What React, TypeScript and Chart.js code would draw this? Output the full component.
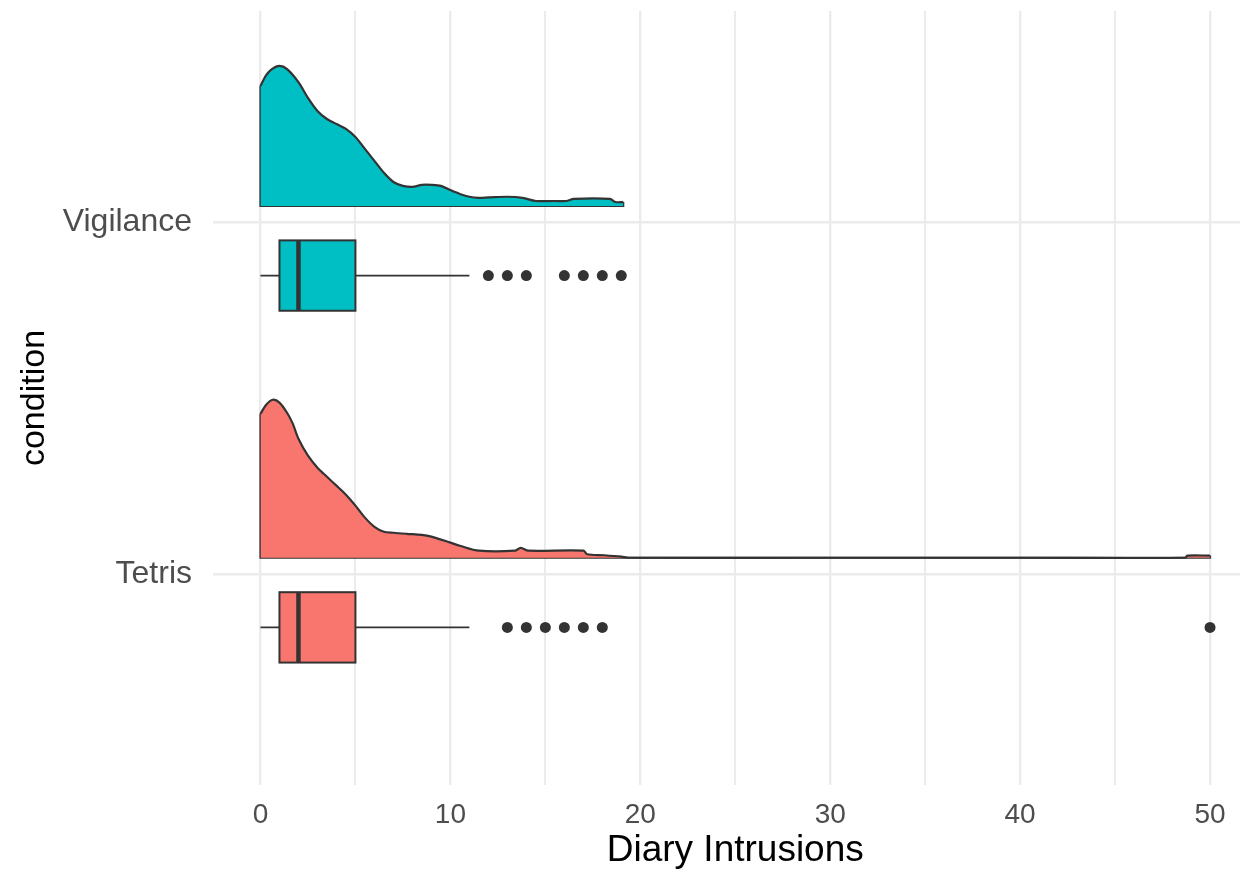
import React, { useEffect, useRef } from "react";
import { Chart, registerables } from "chart.js";

Chart.register(...registerables);

// ---- data ----
const categories = ["Tetris", "Vigilance"]; // y positions 1, 2
const categoryPos = [1, 2];
const fillColors = ["#F8766D", "#00BFC4"];

// box-plot summaries (Tetris, Vigilance)
const boxMin = [0, 0];
const boxQ1 = [1, 1];
const boxMedian = [2, 2];
const boxQ3 = [5, 5];
const boxMax = [11, 11];
const outliersTetris = [13, 14, 15, 16, 17, 18, 50];
const outliersVigilance = [12, 13, 14, 16, 17, 18, 19];

// half-violin densities (scaled heights)
const densVigX = [0, 0.3, 0.6, 1.0, 1.4, 2.0, 2.5, 3.0, 3.5, 4.0, 4.5, 5.0, 5.5, 6.0, 6.5, 7.0, 7.5, 8.0, 8.5, 9.0, 9.5, 10.0, 10.5, 11.0, 11.5, 12.0, 13.0, 13.8, 14.5, 15.5, 16.1, 16.5, 18.4, 18.7, 19.1];
const densVigY = [0.341, 0.372, 0.389, 0.398, 0.389, 0.352, 0.307, 0.27, 0.247, 0.233, 0.219, 0.196, 0.162, 0.128, 0.094, 0.068, 0.057, 0.054, 0.06, 0.06, 0.057, 0.045, 0.034, 0.026, 0.023, 0.024, 0.026, 0.023, 0.014, 0.014, 0.014, 0.02, 0.02, 0.011, 0.011];
const densTetX = [0, 0.3, 0.65, 1.0, 1.4, 1.7, 2.0, 2.5, 3.0, 3.5, 4.0, 4.5, 5.0, 5.5, 6.0, 6.5, 7.0, 7.7, 8.5, 9.0, 10.0, 10.5, 11.5, 13.4, 13.7, 14.1, 17.0, 17.2, 18.1, 19.0, 19.4, 30, 40, 48.7, 48.8, 50];
const densTetY = [0.409, 0.435, 0.449, 0.441, 0.412, 0.381, 0.338, 0.29, 0.256, 0.23, 0.205, 0.179, 0.148, 0.114, 0.088, 0.074, 0.071, 0.068, 0.065, 0.06, 0.043, 0.034, 0.02, 0.02, 0.028, 0.02, 0.02, 0.01, 0.007, 0.003, 0.0, 0.0, 0.0, 0.0, 0.006, 0.006];

const densityOffset = 0.046; // nudge above the category line
const boxOffset = -0.152; // nudge below the category line
const boxHalf = 0.1;

const xTickValues = [0, 5, 10, 15, 20, 25, 30, 35, 40, 45, 50];
const xTickLabels = ["0", "", "10", "", "20", "", "30", "", "40", "", "50"];

const DARK = "#333333";

function densityDatasets(xs: number[], ys: number[], base: number, color: string) {
  const curve = xs.map((x, i) => ({ x, y: base + ys[i] }));
  const last = xs.length - 1;
  const outline = [
    { x: xs[last], y: base + ys[last] },
    { x: xs[last], y: base },
    { x: xs[0], y: base },
    { x: xs[0], y: base + ys[0] },
  ];
  return [
    {
      type: "line",
      data: curve,
      borderColor: DARK,
      borderWidth: 2.2,
      backgroundColor: color,
      fill: { value: base },
      pointRadius: 0,
      tension: 0.3,
    },
    {
      type: "line",
      data: outline,
      borderColor: DARK,
      borderWidth: 2.2,
      fill: false,
      pointRadius: 0,
      tension: 0,
    },
  ];
}

const boxPlugin = {
  id: "boxes",
  afterDatasetsDraw(chart: any) {
    const xs = chart.scales.x;
    const ys = chart.scales.y;
    const ctx = chart.ctx;
    ctx.save();
    categoryPos.forEach((p, i) => {
      const c = p + boxOffset;
      const yc = ys.getPixelForValue(c);
      const yt = ys.getPixelForValue(c + boxHalf);
      const yb = ys.getPixelForValue(c - boxHalf);
      const xmin = xs.getPixelForValue(boxMin[i]);
      const xq1 = xs.getPixelForValue(boxQ1[i]);
      const xmed = xs.getPixelForValue(boxMedian[i]);
      const xq3 = xs.getPixelForValue(boxQ3[i]);
      const xmax = xs.getPixelForValue(boxMax[i]);
      ctx.strokeStyle = DARK;
      ctx.lineWidth = 1.8;
      ctx.beginPath();
      ctx.moveTo(xmin, yc);
      ctx.lineTo(xq1, yc);
      ctx.moveTo(xq3, yc);
      ctx.lineTo(xmax, yc);
      ctx.stroke();
      ctx.fillStyle = fillColors[i];
      ctx.fillRect(xq1, yt, xq3 - xq1, yb - yt);
      ctx.lineWidth = 2;
      ctx.strokeRect(xq1, yt, xq3 - xq1, yb - yt);
      ctx.lineWidth = 4.5;
      ctx.beginPath();
      ctx.moveTo(xmed, yt);
      ctx.lineTo(xmed, yb);
      ctx.stroke();
    });
    ctx.restore();
  },
};

export default function App() {
  const ref = useRef<HTMLCanvasElement>(null);
  useEffect(() => {
    document.body.style.margin = "0";
    Chart.defaults.font.family = "'Liberation Sans', Arial, Helvetica, sans-serif";
    const datasets: any[] = [
      ...densityDatasets(densVigX, densVigY, categoryPos[1] + densityOffset, fillColors[1]),
      ...densityDatasets(densTetX, densTetY, categoryPos[0] + densityOffset, fillColors[0]),
      {
        type: "line",
        data: outliersVigilance.map((x) => ({ x, y: categoryPos[1] + boxOffset })),
        showLine: false,
        pointRadius: 5.5,
        pointBackgroundColor: DARK,
        pointBorderWidth: 0,
      },
      {
        type: "line",
        data: outliersTetris.map((x) => ({ x, y: categoryPos[0] + boxOffset })),
        showLine: false,
        pointRadius: 5.5,
        pointBackgroundColor: DARK,
        pointBorderWidth: 0,
      },
    ];
    const chart = new Chart(ref.current!, {
      type: "line",
      data: { datasets },
      plugins: [boxPlugin],
      options: {
        responsive: false,
        animation: false,
        devicePixelRatio: 1,
        layout: { padding: { top: 11, right: 0, left: 0, bottom: 0 } },
        plugins: { legend: { display: false }, tooltip: { enabled: false } },
        scales: {
          x: {
            type: "linear",
            min: -2.5,
            max: 52.5,
            afterBuildTicks: (s: any) => {
              s.ticks = xTickValues.map((v) => ({ value: v }));
            },
            afterFit: (s: any) => {
              s.height = 88;
              s.paddingLeft = 0;
              s.paddingRight = 0;
            },
            ticks: {
              autoSkip: false,
              maxRotation: 0,
              padding: 13,
              color: "#4d4d4d",
              font: { size: 28 },
              callback: (v: any) => {
                const i = xTickValues.indexOf(Number(v));
                return i >= 0 ? xTickLabels[i] : "";
              },
            },
            grid: {
              color: "#ebebeb",
              lineWidth: (c: any) => (c.tick && c.tick.value % 10 === 0 ? 2.4 : 2),
              drawTicks: false,
            },
            border: { display: false },
            title: {
              display: true,
              text: "Diary Intrusions",
              color: "#000",
              font: { size: 37 },
              padding: { top: 0, bottom: 0 },
            },
          },
          y: {
            type: "linear",
            min: 0.4,
            max: 2.6,
            afterBuildTicks: (s: any) => {
              s.ticks = categoryPos.map((v) => ({ value: v }));
            },
            afterFit: (s: any) => {
              s.width = 213;
              s.paddingTop = 0;
              s.paddingBottom = 0;
            },
            ticks: {
              padding: 21,
              color: "#4d4d4d",
              font: { size: 32 },
              callback: (v: any) => {
                const i = categoryPos.indexOf(Number(v));
                return i >= 0 ? categories[i] : "";
              },
            },
            grid: { color: "#ebebeb", lineWidth: 2.4, drawTicks: false },
            border: { display: false },
            title: {
              display: true,
              text: "condition",
              color: "#000",
              font: { size: 34 },
              padding: { top: 14, bottom: 0 },
            },
          },
        },
      },
    } as any);
    return () => chart.destroy();
  }, []);
  return (
    <div
      style={{
        position: "fixed",
        left: 0,
        top: 0,
        width: 1240,
        height: 873,
        overflow: "hidden",
        background: "#fff",
      }}
    >
      <canvas ref={ref} width={1263} height={873} style={{ width: 1263, height: 873, display: "block" }} />
    </div>
  );
}
